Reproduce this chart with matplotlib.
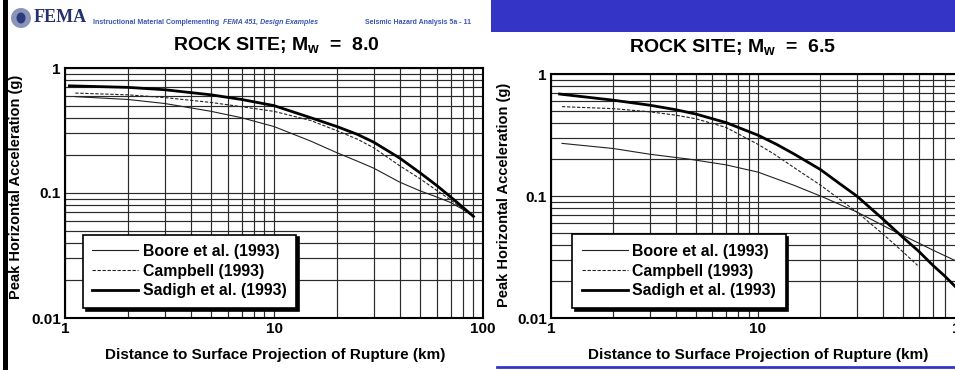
import matplotlib
matplotlib.use('Agg')
import matplotlib.pyplot as plt
from matplotlib.patches import Rectangle, Ellipse
from matplotlib.lines import Line2D

plt.rcParams['font.family'] = ['Liberation Sans', 'DejaVu Sans']
plt.rcParams['font.weight'] = 'bold'
plt.rcParams['mathtext.fontset'] = 'custom'
plt.rcParams['mathtext.rm'] = 'Liberation Sans:bold'
plt.rcParams['mathtext.bf'] = 'Liberation Sans:bold'
plt.rcParams['mathtext.it'] = 'Liberation Sans:bold'

# ---- data (distance km, PGA g) ----
# left panel, Mw = 8.0
boore_d_80 = [1.12, 2, 3, 5, 7, 10, 15, 20, 25, 30, 40, 50, 60, 70, 80, 90]
boore_a_80 = [0.59, 0.56, 0.52, 0.45, 0.40, 0.34, 0.26, 0.21, 0.18, 0.158, 0.122, 0.104, 0.093, 0.084, 0.074, 0.065]
camp_d_80 = [1.12, 2, 3, 5, 7, 10, 15, 20, 25, 30, 40, 50, 60, 70, 80, 90]
camp_a_80 = [0.63, 0.61, 0.58, 0.53, 0.49, 0.45, 0.38, 0.315, 0.27, 0.23, 0.165, 0.13, 0.105, 0.088, 0.075, 0.065]
sad_d_80 = [1.05, 2, 3, 5, 7, 10, 15, 20, 25, 30, 40, 50, 60, 70, 80, 90]
sad_a_80 = [0.72, 0.70, 0.67, 0.61, 0.56, 0.50, 0.40, 0.34, 0.295, 0.255, 0.19, 0.145, 0.115, 0.093, 0.077, 0.065]

# right panel, Mw = 6.5
boore_d_65 = [1.13, 2, 3, 4.7, 7, 10, 15, 20.6, 30, 47, 60, 70, 88, 100]
boore_a_65 = [0.27, 0.245, 0.22, 0.20, 0.18, 0.157, 0.122, 0.098, 0.074, 0.05, 0.041, 0.036, 0.030, 0.027]
camp_d_65 = [1.13, 2, 3, 4, 5, 7, 10, 12, 15, 20, 25, 30, 40, 50, 59]
camp_a_65 = [0.54, 0.52, 0.49, 0.46, 0.43, 0.365, 0.265, 0.22, 0.17, 0.123, 0.093, 0.074, 0.049, 0.035, 0.027]
sad_d_65 = [1.1, 2, 3, 4, 5, 7, 10, 12.3, 15, 20, 25, 30, 40, 50, 60, 70, 80, 90, 100]
sad_a_65 = [0.685, 0.61, 0.555, 0.51, 0.47, 0.40, 0.315, 0.265, 0.22, 0.165, 0.125, 0.10, 0.065, 0.046, 0.035, 0.027, 0.022, 0.018, 0.0155]

labels = ['Boore et al. (1993)', 'Campbell (1993)', 'Sadigh et al. (1993)']
x_ticks = [1, 10, 100]
x_tick_labels = ['1', '10', '100']
y_ticks = [0.01, 0.1, 1]
y_tick_labels = ['0.01', '0.1', '1']

W, H = 955, 370
fig = plt.figure(figsize=(W / 100, H / 100), dpi=100)


def fx(x):
    return x / W


def fy(y):
    return 1 - y / H


# slide decorations
fig.add_artist(Rectangle((fx(491), fy(32)), fx(W - 491), 32 / H, color='#3434c6', lw=0))
fig.add_artist(Line2D([fx(497), 1], [fy(367), fy(367)], color='#3434c6', lw=2))
fig.add_artist(Rectangle((fx(3), 0), fx(5), 1, color='black', lw=0))
fig.add_artist(Ellipse((fx(21), fy(18)), 20 / W, 20 / H, color='#8a93b8', lw=0))
fig.add_artist(Ellipse((fx(21), fy(18)), 9 / W, 11 / H, color='#2b3a7a', lw=0))
fig.text(fx(34), fy(18), 'FEMA', family='Liberation Serif', fontsize=13, color='#24306e', va='center', ha='left')
fig.text(fx(93), fy(22), 'Instructional Material Complementing ', fontsize=5, color='#3a55b0', va='center', ha='left')
fig.text(fx(223), fy(22), 'FEMA 451, Design Examples', fontsize=5, color='#3a55b0', va='center', ha='left', style='italic')
fig.text(fx(365), fy(22), 'Seismic Hazard Analysis 5a - 11', fontsize=5, color='#3a55b0', va='center', ha='left')


def panel(rect, series, title, title_xy, ylab_xy, xlab_xy, leg_anchor):
    ax = fig.add_axes(rect)
    styles = [dict(color='#222222', lw=0.8, ls='-'),
              dict(color='#222222', lw=0.8, ls=(0, (3, 1.5))),
              dict(color='black', lw=2.0, ls='-')]
    for (d, a), lab, st in zip(series, labels, styles):
        ax.plot(d, a, label=lab, **st)
    ax.set_xscale('log')
    ax.set_yscale('log')
    ax.set_xlim(1, 100)
    ax.set_ylim(0.01, 1)
    ax.grid(True, which='both', color='#2a2a2a', lw=0.85)
    ax.set_xticks(x_ticks)
    ax.set_xticklabels(x_tick_labels)
    ax.set_yticks(y_ticks)
    ax.set_yticklabels(y_tick_labels)
    ax.tick_params(which='both', length=0, labelsize=11, pad=3)
    for s in ax.spines.values():
        s.set_linewidth(1.5)
    leg = ax.legend(loc='lower left', bbox_to_anchor=leg_anchor, borderaxespad=0,
                    fancybox=False, shadow={'color': 'black', 'alpha': 1}, framealpha=1,
                    edgecolor='black', fontsize=11.4, handlelength=2.9, handletextpad=0.3,
                    labelspacing=0.3, borderpad=0.6)
    leg.get_frame().set_linewidth(1.2)
    fig.text(fx(title_xy[0]), fy(title_xy[1]), title, fontsize=14, ha='center', va='center')
    fig.text(fx(ylab_xy[0]), fy(ylab_xy[1]), 'Peak Horizontal Acceleration (g)', rotation=90,
             fontsize=10.5, ha='center', va='center')
    fig.text(fx(xlab_xy[0]), fy(xlab_xy[1]), 'Distance to Surface Projection of Rupture (km)',
             fontsize=11, ha='center', va='center')
    return ax


panel([fx(65), fy(318), fx(483 - 65), 250 / H],
      [(boore_d_80, boore_a_80), (camp_d_80, camp_a_80), (sad_d_80, sad_a_80)],
      r'ROCK SITE; M$_{\mathbf{w}}$  =  8.0', (276, 45), (16, 187), (275, 355), (0.043, 0.04))

panel([fx(551), fy(318), fx(965 - 551), 244 / H],
      [(boore_d_65, boore_a_65), (camp_d_65, camp_a_65), (sad_d_65, sad_a_65)],
      r'ROCK SITE; M$_{\mathbf{w}}$  =  6.5', (733, 47), (504, 195), (758, 355), (0.051, 0.041))

fig.savefig('out.png', dpi=100)
